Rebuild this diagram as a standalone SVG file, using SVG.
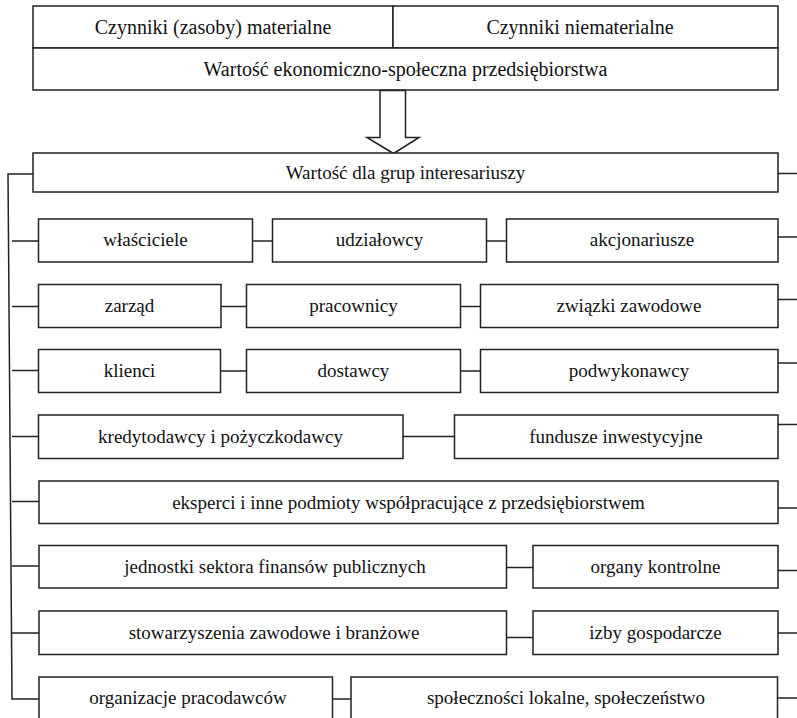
<svg xmlns="http://www.w3.org/2000/svg" width="797" height="718" viewBox="0 0 797 718">
<style>
rect{fill:#fff;stroke:#222;stroke-width:1.5}
.c line,.c polyline{stroke:#222;stroke-width:1.5;fill:none}
text{font-family:"Liberation Serif","Times New Roman",serif;font-size:19px;fill:#111;text-anchor:middle}
.big{font-size:20px}
</style>
<rect x="0" y="0" width="797" height="718" style="stroke:none;fill:#fff"/>
<g id="czynniki-materialne"><rect x="33" y="6" width="360" height="42"/><text class="big" x="213" y="34">Czynniki (zasoby) materialne</text></g>
<g id="czynniki-niematerialne"><rect x="393" y="6" width="385" height="42"/><text class="big" x="580" y="34">Czynniki niematerialne</text></g>
<g id="wartosc-ekonomiczna"><rect x="33" y="48" width="745" height="42"/><text class="big" x="405.5" y="76">Wartość ekonomiczno-społeczna przedsiębiorstwa</text></g>
<g id="arrow"><polygon points="380,90.5 380,137.5 367,137.5 393.5,153.5 419,137.5 405.5,137.5 405.5,90.5" style="fill:#fff;stroke:#222;stroke-width:1.5"/></g>
<g id="wartosc-interesariusze"><rect x="33" y="153" width="745" height="39"/><text x="405.5" y="179">Wartość dla grup interesariuszy</text></g>

<g id="wlasciciele"><rect x="38.5" y="219" width="214" height="43"/><text x="145.5" y="246">właściciele</text></g>
<g id="udzialowcy"><rect x="272.5" y="219" width="214" height="43"/><text x="379.5" y="246">udziałowcy</text></g>
<g id="akcjonariusze"><rect x="506.5" y="219" width="271.5" height="43"/><text x="642" y="246">akcjonariusze</text></g>

<g id="zarzad"><rect x="38.5" y="284.5" width="182.5" height="43"/><text x="129.5" y="312">zarząd</text></g>
<g id="pracownicy"><rect x="246.5" y="284.5" width="214" height="43"/><text x="353.5" y="312">pracownicy</text></g>
<g id="zwiazki"><rect x="480.5" y="284.5" width="297.5" height="43"/><text x="629" y="312">związki zawodowe</text></g>

<g id="klienci"><rect x="38.5" y="349.5" width="182" height="43"/><text x="129.5" y="377">klienci</text></g>
<g id="dostawcy"><rect x="246.5" y="349.5" width="214" height="43"/><text x="353.5" y="377">dostawcy</text></g>
<g id="podwykonawcy"><rect x="480.5" y="349.5" width="297.5" height="43"/><text x="629" y="377">podwykonawcy</text></g>

<g id="kredytodawcy"><rect x="38.5" y="415" width="364.5" height="43.5"/><text x="220.5" y="443">kredytodawcy i pożyczkodawcy</text></g>
<g id="fundusze"><rect x="454.5" y="415" width="323.5" height="43.5"/><text x="616" y="443">fundusze inwestycyjne</text></g>

<g id="eksperci"><rect x="39" y="481" width="739" height="42.5"/><text x="408.5" y="508.5">eksperci i inne podmioty współpracujące z przedsiębiorstwem</text></g>

<g id="jednostki"><rect x="39" y="545.5" width="467.5" height="42.5"/><text x="275" y="573">jednostki sektora finansów publicznych</text></g>
<g id="organy"><rect x="533" y="545.5" width="245" height="42.5"/><text x="655.5" y="573">organy kontrolne</text></g>

<g id="stowarzyszenia"><rect x="39" y="611" width="467.5" height="43.5"/><text x="274" y="639">stowarzyszenia zawodowe i branżowe</text></g>
<g id="izby"><rect x="533" y="611" width="245" height="43.5"/><text x="655.5" y="639">izby gospodarcze</text></g>

<g id="organizacje"><rect x="39" y="677" width="293.5" height="60"/><text x="188" y="704">organizacje pracodawców</text></g>
<g id="spolecznosci"><rect x="351" y="677" width="426.5" height="60"/><text x="566" y="704">społeczności lokalne, społeczeństwo</text></g>

<g id="connectors" class="c">
<polyline points="33,174 8,174 12,699 39,699"/>
<line x1="12" y1="241" x2="38.5" y2="241"/>
<line x1="12" y1="306.5" x2="38.5" y2="306.5"/>
<line x1="12" y1="370.5" x2="38.5" y2="370.5"/>
<line x1="12" y1="436.5" x2="38.5" y2="436.5"/>
<line x1="12" y1="501.5" x2="39" y2="501.5"/>
<line x1="12" y1="566" x2="39" y2="566"/>
<line x1="12" y1="633" x2="39" y2="633"/>
<line x1="252.5" y1="241" x2="272.5" y2="241"/>
<line x1="486.5" y1="241" x2="506.5" y2="241"/>
<line x1="221" y1="306.5" x2="246.5" y2="306.5"/>
<line x1="460.5" y1="306.5" x2="480.5" y2="306.5"/>
<line x1="220.5" y1="371" x2="246.5" y2="371"/>
<line x1="460.5" y1="371" x2="480.5" y2="371"/>
<line x1="403" y1="436.5" x2="454.5" y2="436.5"/>
<line x1="506.5" y1="567.5" x2="533" y2="567.5"/>
<line x1="506.5" y1="637.5" x2="533" y2="637.5"/>
<line x1="332.5" y1="699" x2="351" y2="699"/>
<line x1="778" y1="173.5" x2="797" y2="173.5"/>
<line x1="778" y1="237" x2="797" y2="237"/>
<line x1="778" y1="299.5" x2="797" y2="299.5"/>
<line x1="778" y1="363" x2="797" y2="363"/>
<line x1="778" y1="424.5" x2="797" y2="424.5"/>
<line x1="778" y1="508" x2="797" y2="508"/>
<line x1="778" y1="570.5" x2="797" y2="570.5"/>
<line x1="778" y1="633" x2="797" y2="633"/>
<line x1="777.5" y1="698" x2="797" y2="698"/>
</g>
</svg>
